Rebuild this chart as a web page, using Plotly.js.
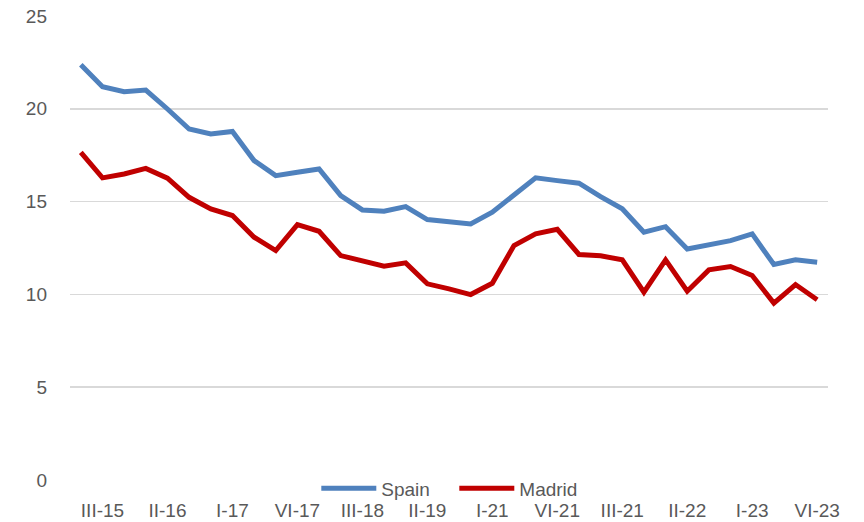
<!DOCTYPE html>
<html>
<head>
<meta charset="utf-8">
<script src="https://cdn.plot.ly/plotly-3.0.1.min.js"></script>
<style>html,body{margin:0;padding:0;background:#fff}#chart{width:864px;height:522px}</style>
</head>
<body>
<div id="chart"></div>
<script>
var periodIndex = [0,1,2,3,4,5,6,7,8,9,10,11,12,13,14,15,16,17,18,19,20,21,22,23,24,25,26,27,28,29,30,31,32,33,34];
var tickPositions = [1,4,7,10,13,16,19,22,25,28,31,34];
var tickLabels = ["III-15","II-16","I-17","VI-17","III-18","II-19","I-21","VI-21","III-21","II-22","I-23","VI-23"];
var spain = [22.37,21.19,20.92,21.01,19.99,18.91,18.64,18.78,17.21,16.40,16.58,16.76,15.32,14.55,14.48,14.73,14.03,13.89,13.80,14.43,15.32,16.28,16.13,15.99,15.27,14.61,13.35,13.65,12.45,12.67,12.90,13.26,11.61,11.86,11.73];
var madrid = [17.65,16.28,16.49,16.79,16.26,15.23,14.61,14.25,13.08,12.36,13.76,13.40,12.09,11.82,11.52,11.70,10.57,10.30,9.99,10.60,12.63,13.26,13.51,12.15,12.08,11.86,10.12,11.86,10.17,11.32,11.50,11.02,9.53,10.53,9.71];
var yTicks = [0,5,10,15,20,25];

var font = "Liberation Sans, Arial, sans-serif";
var traces = [
  {x: periodIndex, y: spain, name: "Spain", type: "scatter", mode: "lines",
   line: {color: "#4f81bd", width: 5}},
  {x: periodIndex, y: madrid, name: "Madrid", type: "scatter", mode: "lines",
   line: {color: "#c00000", width: 5}}
];
var layout = {
  width: 864, height: 522,
  margin: {l: 70, r: 36, t: 16, b: 42},
  paper_bgcolor: "#fff", plot_bgcolor: "#fff",
  font: {family: font, size: 19, color: "#595959"},
  showlegend: true,
  legend: {orientation: "h", x: 0.507, xanchor: "center", y: -0.018, yanchor: "middle",
           font: {family: font, size: 19, color: "#595959"}, bgcolor: "rgba(0,0,0,0)",
           itemwidth: 55, entrywidth: 68},
  xaxis: {range: [-0.5, 34.5], tickmode: "array", tickvals: tickPositions, ticktext: tickLabels,
          showgrid: false, zeroline: false, showline: false, ticks: "",
          ticklabelstandoff: 17, fixedrange: true},
  yaxis: {range: [0, 25], tickmode: "array", tickvals: yTicks,
          showgrid: true, gridcolor: "#d9d9d9", gridwidth: 1.5, zeroline: false,
          showline: false, ticks: "", ticklabelstandoff: 22}
};
Plotly.newPlot("chart", traces, layout, {displayModeBar: false, staticPlot: true});
</script>
</body>
</html>
